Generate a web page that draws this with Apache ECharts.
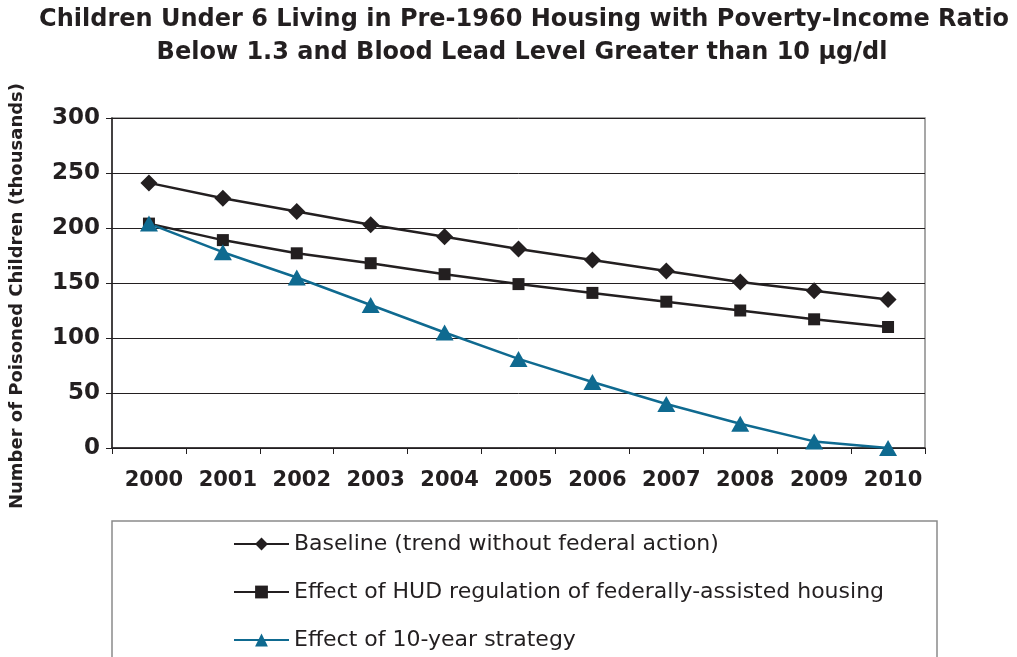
<!DOCTYPE html>
<html>
<head>
<meta charset="utf-8">
<script src="https://cdn.jsdelivr.net/npm/echarts@6/dist/echarts.min.js"></script>
<style>
html,body{margin:0;padding:0;background:#fff;}
#chart{width:1017px;height:657px;}
</style>
</head>
<body>
<div id="chart"></div>
<script>
var titleLines = ['Children Under 6 Living in Pre-1960 Housing with Poverty-Income Ratio', 'Below 1.3 and Blood Lead Level Greater than 10 \u03bcg/dl'];
var yAxisTitle = 'Number of Poisoned Children (thousands)';
var years = ['2000','2001','2002','2003','2004','2005','2006','2007','2008','2009','2010'];
var seriesNames = ['Baseline (trend without federal action)', 'Effect of HUD regulation of federally-assisted housing', 'Effect of 10-year strategy'];
var baseline = [241, 227, 215, 203, 192, 181, 171, 161, 151, 143, 135];
var hud = [204, 189, 177, 168, 158, 149, 141, 133, 125, 117, 110];
var strategy = [204, 178, 155, 130, 105, 81, 60, 40, 22, 6, 0];

var FONT = '"DejaVu Sans", Verdana, sans-serif';
var DARK = '#231f20';
var TEAL = '#0f6a90';

var chart = echarts.init(document.getElementById('chart'), null, {renderer: 'canvas'});
chart.setOption({
  backgroundColor: '#fff',
  animation: false,
  grid: {left: 112, right: 92, top: 118, bottom: 209, show: true, borderColor: '#8a8a8a', borderWidth: 1.5, containLabel: false},
  xAxis: {
    type: 'category', data: years, boundaryGap: true,
    axisLine: {lineStyle: {color: DARK, width: 1.5}},
    axisTick: {show: true, alignWithLabel: false, length: 6, lineStyle: {color: DARK, width: 1}},
    axisLabel: {margin: 22, color: DARK, fontFamily: FONT, fontWeight: 'bold', fontSize: 21, interval: 0, padding: [0, 0, 0, 10]}
  },
  yAxis: {
    type: 'value', min: 0, max: 300, interval: 50,
    axisLine: {show: true, lineStyle: {color: DARK, width: 1.5}},
    axisTick: {show: true, length: 6, lineStyle: {color: DARK}},
    splitLine: {show: true, lineStyle: {color: DARK, width: 1}},
    axisLabel: {margin: 12, color: DARK, fontFamily: FONT, fontWeight: 'bold', fontSize: 23}
  },
  legend: {
    orient: 'vertical', left: 228, top: 528, height: 250,
    itemWidth: 55, itemHeight: 16, itemGap: 26,
    textStyle: {fontFamily: FONT, fontSize: 22, color: DARK, lineHeight: 22},
    data: seriesNames
  },
  graphic: [
    {type: 'text', style: {text: titleLines[0], x: 524, y: 20, textAlign: 'center', textVerticalAlign: 'middle', font: 'bold 24px ' + FONT, fill: DARK}},
    {type: 'text', style: {text: titleLines[1], x: 522, y: 53, textAlign: 'center', textVerticalAlign: 'middle', font: 'bold 24px ' + FONT, fill: DARK}},
    {type: 'text', x: 17, y: 296, rotation: Math.PI / 2, style: {text: yAxisTitle, x: 0, y: 0, textAlign: 'center', textVerticalAlign: 'middle', font: 'bold 18px ' + FONT, fill: DARK}},
    {type: 'rect', shape: {x: 112, y: 521, width: 825, height: 180}, style: {fill: 'none', stroke: '#8a8a8a', lineWidth: 1.5}, z: -1}
  ],
  series: [
    {name: seriesNames[0], type: 'line', data: baseline, symbol: 'diamond', symbolSize: 17,
     lineStyle: {color: DARK, width: 2.5}, itemStyle: {color: DARK}},
    {name: seriesNames[1], type: 'line', data: hud, symbol: 'rect', symbolSize: 12,
     lineStyle: {color: DARK, width: 2.5}, itemStyle: {color: DARK}},
    {name: seriesNames[2], type: 'line', data: strategy, symbol: 'triangle', symbolSize: [18, 16],
     lineStyle: {color: TEAL, width: 2.5}, itemStyle: {color: TEAL}}
  ]
});
</script>
</body>
</html>
